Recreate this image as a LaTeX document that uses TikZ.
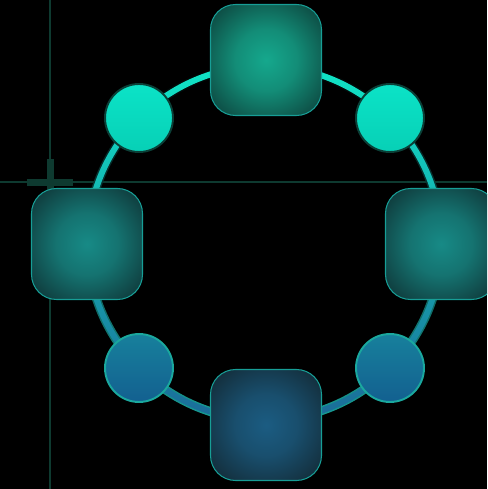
\documentclass[tikz,border=0pt]{standalone}
\usepackage{tikz}
\usetikzlibrary{shapes.geometric}
\definecolor{gridline}{HTML}{0E3A30}
\definecolor{topcore}{HTML}{15A88D}
\definecolor{topedge}{HTML}{0C3B36}
\definecolor{sidecore}{HTML}{178A86}
\definecolor{sideedge}{HTML}{0E2E30}
\definecolor{lowcore}{HTML}{1B5C82}
\definecolor{lowedge}{HTML}{12262F}
\definecolor{tileline}{HTML}{179E96}
\definecolor{ringtop}{HTML}{10E6C6}
\definecolor{ringmid}{HTML}{14B0B0}
\definecolor{ringlow}{HTML}{1B6A98}
\definecolor{brightline}{HTML}{0B3F37}
\definecolor{brighttop}{HTML}{0BE3C7}
\definecolor{brightlow}{HTML}{07D0B6}
\definecolor{deepline}{HTML}{1AA89E}
\definecolor{deeptop}{HTML}{17809C}
\definecolor{deeplow}{HTML}{136090}
\pgfdeclareradialshading{glowtop}{\pgfpointorigin}{color(0bp)=(topcore); color(14bp)=(topcore!75!topedge); color(36bp)=(topedge); color(50bp)=(topedge)}
\pgfdeclareradialshading{glowside}{\pgfpointorigin}{color(0bp)=(sidecore); color(14bp)=(sidecore!75!sideedge); color(36bp)=(sideedge); color(50bp)=(sideedge)}
\pgfdeclareradialshading{glowlow}{\pgfpointorigin}{color(0bp)=(lowcore); color(14bp)=(lowcore!75!lowedge); color(36bp)=(lowedge); color(50bp)=(lowedge)}

\begin{document}
\begin{tikzpicture}[x=0.02cm, y=-0.02cm,
    tile/.style={rectangle, draw=tileline, line width=0.6pt, minimum size=2.22cm, rounded corners=0.5cm, shade},
    brightdot/.style={circle, draw=brightline, line width=1.1pt, minimum size=1.36cm, top color=brighttop, bottom color=brightlow},
    deepdot/.style={circle, draw=deepline, line width=1.1pt, minimum size=1.36cm, top color=deeptop, bottom color=deeplow},
    guide/.style={gridline, line width=1.2pt}]

    \fill[black] (0,0) rectangle (487,489);
    \useasboundingbox (0,0) rectangle (487,489);
    \clip (0,0) rectangle (487,489);

    % guides and marker
    \draw[guide] (50,0) -- (50,489);
    \draw[guide] (0,182) -- (487,182);
    \fill[gridline] (27,179) rectangle (73,186);
    \fill[gridline] (46.5,159) rectangle (53.5,205);

    % ring
    \coordinate (hub) at (264.5,243);
    \shade[even odd rule, top color=black, bottom color=tileline]
        (hub) circle[radius=181.5] (hub) circle[radius=172.5];
    \shade[even odd rule, top color=ringtop, middle color=ringmid, bottom color=ringlow]
        (hub) circle[radius=180] (hub) circle[radius=174];

    % tiles
    \node[tile, shading=glowtop] (north) at (266,60) {};
    \node[tile, shading=glowside] (west) at (87,244) {};
    \node[tile, shading=glowside] (east) at (441,244) {};
    \node[tile, shading=glowlow] (south) at (266,425) {};

    % dots
    \node[brightdot] (northwest) at (139,118) {};
    \node[brightdot] (northeast) at (390,118) {};
    \node[deepdot] (southwest) at (139,368) {};
    \node[deepdot] (southeast) at (390,368) {};
\end{tikzpicture}
\end{document}
